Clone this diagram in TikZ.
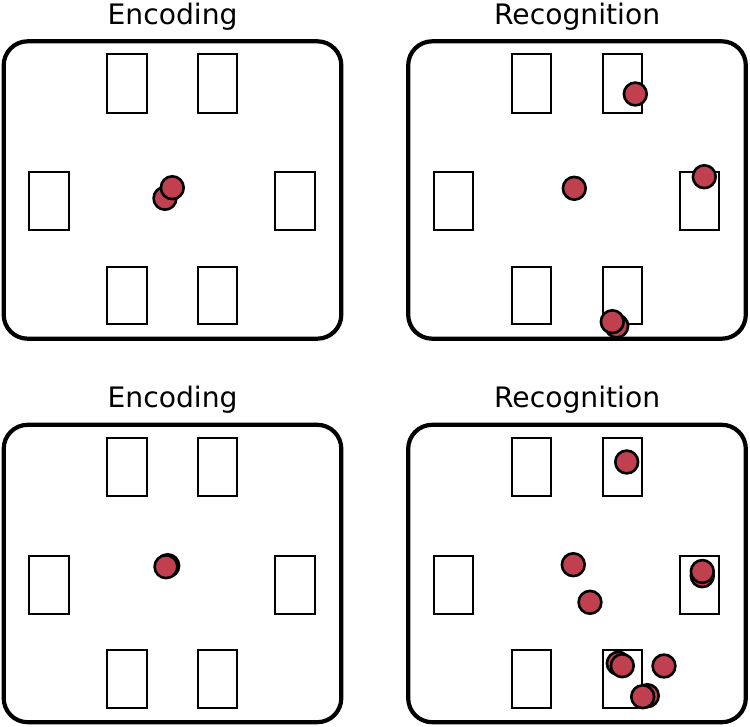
\documentclass[tikz,border=0pt]{standalone}
\usepackage{fontspec}
\setmainfont{DejaVu Sans}
\definecolor{dotred}{HTML}{C0404F}
\tikzset{
  frame/.style={draw=black, line width=4.2pt, rounded corners=24pt},
  slot/.style={draw=black, line width=2pt},
  title/.style={anchor=base, inner sep=0pt, font=\fontsize{28.2}{30}\selectfont},
  dot/.style={fill=dotred, draw=black, line width=2.6pt}
}
\newcommand{\panelbase}[2]{%
  \draw[frame] (3.7,41.3) rectangle (341.3,338.7);
  \draw[slot] (107.3,54.3) rectangle (146.7,112.7);
  \draw[slot] (198,54.3) rectangle (237.3,112.7);
  \draw[slot] (29.3,172.3) rectangle (68.7,230);
  \draw[slot] (275.3,172.3) rectangle (314.7,230);
  \draw[slot] (107.3,266.7) rectangle (146.7,324.3);
  \draw[slot] (198,266.7) rectangle (237.3,324.3);
  \node[title] (#1) at (172.6,24) {#2};
}
\begin{document}
\begin{tikzpicture}[x=1pt,y=-1pt]
\useasboundingbox (0,0) rectangle (750,726);
% top-left
\begin{scope}
  \panelbase{t1}{Encoding}
  \draw[dot] (165,198.3) circle (11.4);
  \draw[dot] (172.3,187.7) circle (11.4);
\end{scope}
% top-right
\begin{scope}[shift={(404.5,0)}]
  \panelbase{t2}{Recognition}
\end{scope}
\draw[dot] (635.3,94) circle (11.4);
\draw[dot] (704.3,176.7) circle (11.4);
\draw[dot] (574.3,188.3) circle (11.4);
\draw[dot] (616.7,326) circle (11.4);
\draw[dot] (612.3,321.7) circle (11.4);
% bottom-left
\begin{scope}[shift={(0,383.5)}]
  \panelbase{t3}{Encoding}
\end{scope}
\draw[dot] (167.7,565.7) circle (11.4);
\draw[dot] (166,566.7) circle (11.4);
% bottom-right
\begin{scope}[shift={(404.5,383.5)}]
  \panelbase{t4}{Recognition}
\end{scope}
\draw[dot] (626.7,462) circle (11.4);
\draw[dot] (573.3,564.7) circle (11.4);
\draw[dot] (590,602.3) circle (11.4);
\draw[dot] (702.3,575.7) circle (11.4);
\draw[dot] (702.3,571.5) circle (11.4);
\draw[dot] (618.3,663.3) circle (11.4);
\draw[dot] (622.3,665.7) circle (11.4);
\draw[dot] (664,666) circle (11.4);
\draw[dot] (647.3,695.7) circle (11.4);
\draw[dot] (642.7,696.7) circle (11.4);
\end{tikzpicture}
\end{document}
